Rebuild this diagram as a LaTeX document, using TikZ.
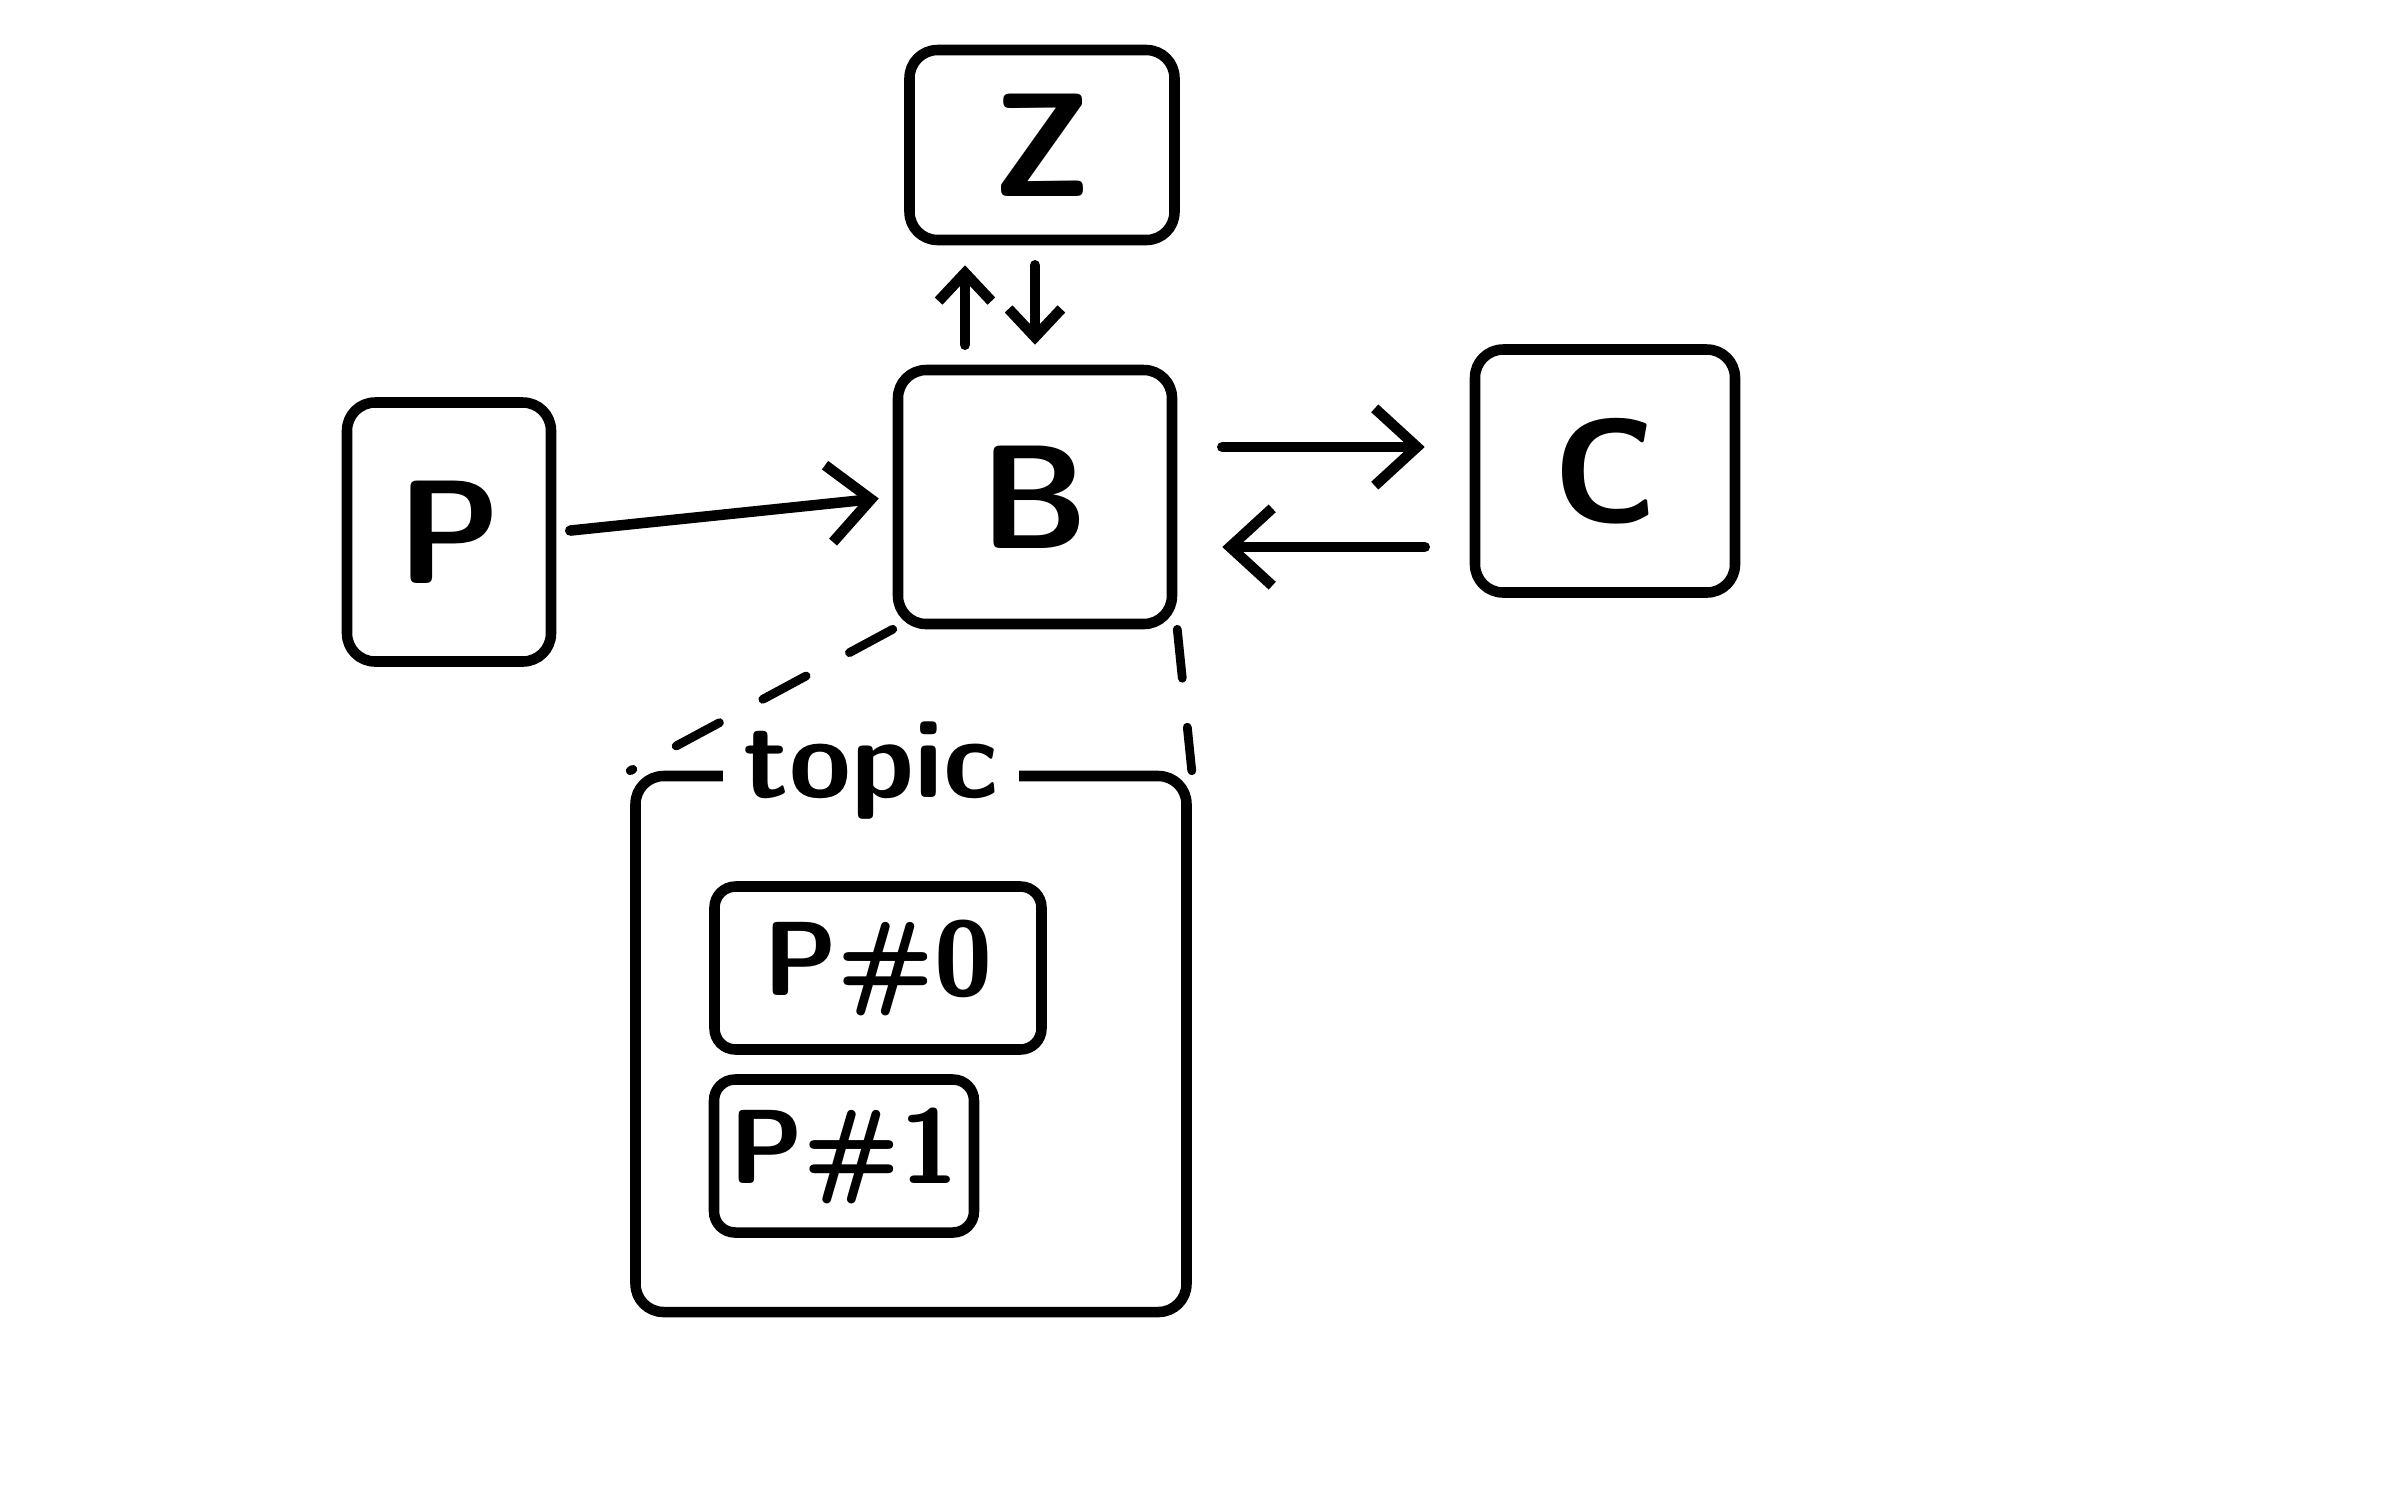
\documentclass[tikz,border=0pt]{standalone}
\usepackage{tikz}
\usetikzlibrary{arrows.meta,positioning,calc}

\begin{document}
\begin{tikzpicture}[
  box/.style={draw=black, line width=3pt, rounded corners=8pt,
              font=\sffamily\bfseries\fontsize{42}{46}\selectfont},
  part/.style={draw=black, line width=3pt, rounded corners=6pt,
               font=\sffamily\bfseries\fontsize{30}{34}\selectfont},
  arrow/.style={-{Straight Barb[length=12pt,width=22pt]}, line width=3pt,
                line cap=round},
  small arrow/.style={-{Straight Barb[length=8pt,width=15pt]}, line width=3pt,
                      line cap=round},
  zoomline/.style={line width=2.5pt, dash pattern=on 14pt off 14pt,
                   line cap=round}
]
\useasboundingbox (0,0) rectangle (23.86,-14.91);

%% Zookeeper, broker, producer, consumer
\node[box, minimum width=2.65cm, minimum height=1.9cm]  (zk)   at (10.42,-1.45) {Z};
\node[box, minimum width=2.74cm, minimum height=2.54cm] (brk)  at (10.35,-4.97) {B};
\node[box, minimum width=2.04cm, minimum height=2.59cm] (prod) at (4.49,-5.32)  {P};
\node[box, minimum width=2.60cm, minimum height=2.43cm] (cons) at (16.05,-4.71) {C};

%% Topic with its partitions
\node[box, minimum width=5.51cm, minimum height=5.36cm] (topic) at (9.11,-10.44) {};
\node[fill=white, inner xsep=6pt, font=\sffamily\bfseries\fontsize{32}{36}\selectfont]
     (tlabel) at ([xshift=-4mm]topic.north) {topic};
\node[part, minimum width=3.27cm, minimum height=1.63cm] (p0) at (8.78,-9.68)  {P\#0};
\node[part, minimum width=2.60cm, minimum height=1.53cm] (p1) at (8.44,-11.56) {P\#1};

%% Connections
\draw[arrow, shorten <=4pt, shorten >=4pt] (prod.east) -- (brk.west);
\draw[small arrow, shorten <=2mm, shorten >=2mm]
  ([xshift=-7mm]brk.north) -- ([xshift=-7mm]brk.north |- zk.south);
\draw[small arrow, shorten <=2mm, shorten >=2mm]
  ([xshift=0mm]brk.north |- zk.south) -- ([xshift=0mm]brk.north);
\draw[arrow, shorten <=4.5mm, shorten >=4.5mm]
  ([yshift=5mm]brk.east) -- ([yshift=5mm]brk.east -| cons.west);
\draw[arrow, shorten <=4.5mm, shorten >=4.5mm]
  ([yshift=-5mm]brk.east -| cons.west) -- ([yshift=-5mm]brk.east);

%% Zoom lines
\draw[zoomline] (brk.south west) -- (topic.north west);
\draw[zoomline] (brk.south east) -- (topic.north east);

\end{tikzpicture}
\end{document}
